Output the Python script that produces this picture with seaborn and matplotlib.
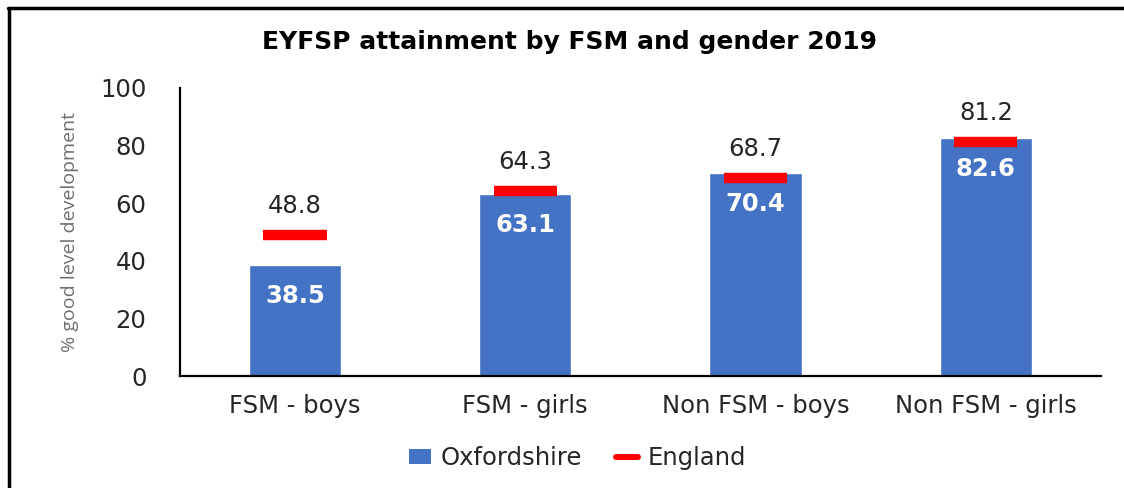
import numpy as np
import pandas as pd
import matplotlib
matplotlib.use("Agg")
import matplotlib.pyplot as plt
from matplotlib.lines import Line2D
from matplotlib.patches import Patch
import seaborn as sns

categories = ["FSM - boys", "FSM - girls", "Non FSM - boys", "Non FSM - girls"]
oxfordshire = [38.5, 63.1, 70.4, 82.6]
england = [48.8, 64.3, 68.7, 81.2]
yticks = [0, 20, 40, 60, 80, 100]
title = "EYFSP attainment by FSM and gender 2019"
ylabel = "% good level development"

sns.set_theme(style="white")
plt.rcParams["font.family"] = ["DejaVu Sans"]

BLUE = "#4472C4"
RED = "#FF0000"
TXT = "#262626"
FS = 17.5

df = pd.DataFrame({"category": categories, "Oxfordshire": oxfordshire, "England": england})

fig = plt.figure(figsize=(11.24, 4.88), dpi=100)
ax = fig.add_axes([0.160, 0.2295, 0.8195, 0.5902])

sns.barplot(data=df, x="category", y="Oxfordshire", color=BLUE, width=0.4,
            saturation=1, ax=ax)

xs = np.arange(len(categories))
ax.hlines(df["England"], xs - 0.137, xs + 0.137, colors=RED, linewidth=7.5)

for x, v in zip(xs, df["Oxfordshire"]):
    ax.annotate(f"{v:.1f}", (x, v), xytext=(0, -22), textcoords="offset points",
                ha="center", va="center", color="white", fontsize=FS, fontweight="bold")
for x, v in zip(xs, df["England"]):
    ax.annotate(f"{v:.1f}", (x, v), xytext=(0, 21), textcoords="offset points",
                ha="center", va="center", color=TXT, fontsize=FS)

ax.set_ylim(0, 100)
ax.set_yticks(yticks)
ax.set_xlim(-0.5, len(categories) - 0.5)
ax.set_xlabel("")
ax.set_ylabel(ylabel, fontsize=14, color="#6f6f6f", family="Open Sans")
ax.yaxis.set_label_coords(-0.109, 0.5)
ax.tick_params(axis="y", length=0, pad=24, labelsize=FS, labelcolor=TXT)
ax.tick_params(axis="x", length=0, pad=13, labelsize=FS, labelcolor=TXT)
for s in ["top", "right"]:
    ax.spines[s].set_visible(False)
for s in ["left", "bottom"]:
    ax.spines[s].set_color("black")
    ax.spines[s].set_linewidth(1.6)

fig.text(0.507, 0.914, title, ha="center", va="center", fontsize=18,
         fontweight="bold", color="black")

handles = [Patch(facecolor=BLUE, edgecolor="none", label="Oxfordshire"),
           Line2D([0], [0], color=RED, lw=4.3, label="England")]
fig.legend(handles=handles, loc="center", bbox_to_anchor=(0.514, 0.0615), ncol=2,
           frameon=False, fontsize=FS, handlelength=0.9, handleheight=0.55,
           columnspacing=1.4, handletextpad=0.4)

# outer frame (top and left edges visible)
fig.add_artist(Line2D([0.007, 1.0], [0.983, 0.983], color="black", lw=2.5,
                      transform=fig.transFigure))
fig.add_artist(Line2D([0.008, 0.008], [0.0, 0.983], color="black", lw=2.5,
                      transform=fig.transFigure))

fig.savefig("out.png", dpi=100)
